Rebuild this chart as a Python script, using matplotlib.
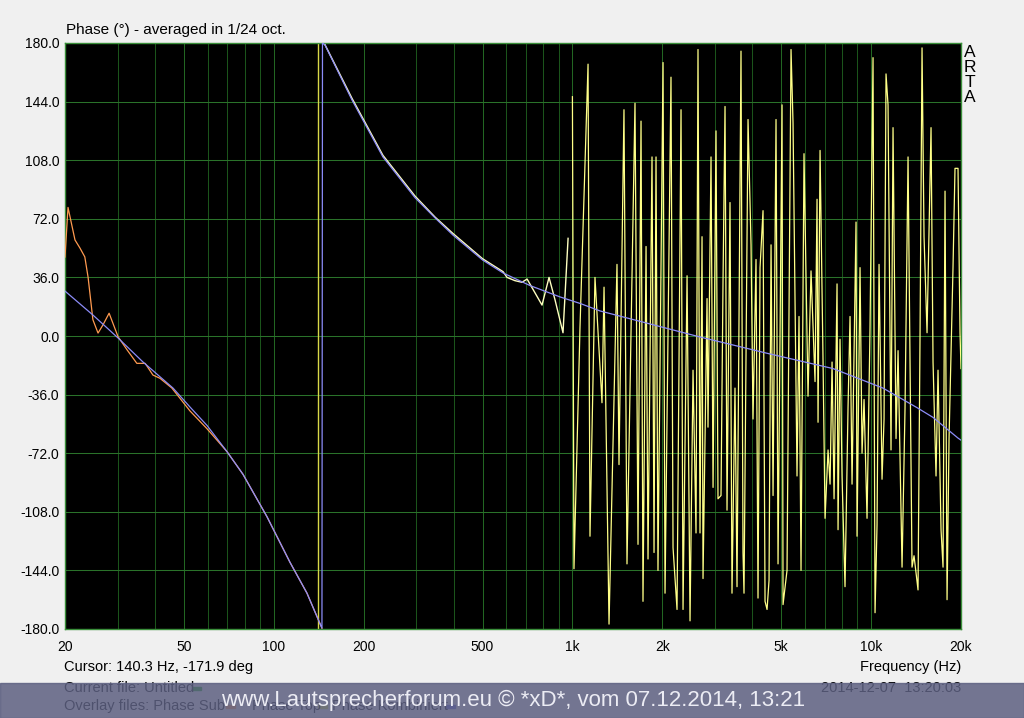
"""
ARTA phase plot: sub, top and combined phase overlays (1/24 oct. smoothing)
"""
import numpy as np
import matplotlib.pyplot as plt
from matplotlib.patches import Rectangle

# ---- data ----
# Phase Kombiniert (blue), wraps from -180 to +180 near 145 Hz
f_komb = [20, 24.8, 30.1, 36.5, 46, 52.4, 59.8, 69.7, 78.9, 94.9, 113.3, 129.2, 145.0,
          145.6, 148.4, 182.8, 232, 297, 347, 398, 500, 586, 721, 909, 1061, 1237,
          2674, 4481, 7454, 10960, 14244, 16116, 19540, 20000]
ph_komb = [27.6, 12.9, -1.2, -16, -32, -43.6, -55, -71, -85, -111, -139, -158, -179.5,
           180, 178.8, 145, 110, 85, 72.5, 62, 46.7, 38.7, 31, 24, 20, 15.4,
           -0.6, -10.6, -20, -32, -44, -50, -62.7, -64]

# Phase Sub (orange)
f_sub = [20, 20.47, 21.6, 22.45, 23.3, 23.9, 24.8, 25.8, 26.8, 28.1, 30.1, 32.3, 34.8,
         37.1, 39.4, 41.6, 45.6, 52.4, 59.8, 69.7, 78.9, 94.9, 113.3, 129.2, 145.0]
ph_sub = [48.5, 79, 59, 54, 48.6, 36, 10, 1.8, 6.8, 14, -0.4, -8.6, -16.8,
          -16.8, -24, -26, -32, -46, -57, -71, -85, -111, -139, -158, -179.5]

# Phase Top (pale yellow), smooth part up to ~1 kHz
f_top_lo = [148.4, 182.8, 232, 297, 347, 398, 500, 586, 604, 642, 678, 705, 791, 835,
            875, 930, 967]
ph_top_lo = [179, 146, 111, 86, 73, 63, 47.5, 39.5, 36, 34, 33, 35, 19, 36,
             22, 2, 60]

# Phase Top above 1 kHz (extremes of the ragged trace)
f_top_hi = [1000, 1012, 1060, 1128, 1145, 1190, 1256, 1276, 1326, 1410, 1432, 1488,
            1523, 1620, 1658, 1697, 1723, 1764, 1791, 1847, 1876, 1905, 1934, 2011,
            2042, 2138, 2172, 2240, 2310, 2346, 2420, 2476, 2534, 2593, 2633, 2674,
            2716, 2737, 2823, 2844, 2911, 2957, 3025, 3072, 3144, 3193, 3243, 3293,
            3370, 3422, 3502, 3557, 3668, 3725, 3754, 3872, 3963, 4024, 4118, 4182,
            4248, 4347, 4415, 4484, 4553, 4624, 4696, 4805, 4880, 5033, 5072, 5230,
            5394, 5478, 5649, 5737, 5826, 5962, 6149, 6293, 6491, 6592, 6643, 6747,
            6905, 7012, 7176, 7288, 7401, 7516, 7691, 7751, 7870, 7993, 8179, 8371,
            8502, 8634, 8904, 8973, 9183, 9326, 9471, 9692, 9918, 10150, 10309, 10469,
            10632, 10880, 11050, 11220, 11395, 11660, 11843, 12120, 12310, 12695,
            12991, 13296, 13710, 13925, 14360, 14583, 14810, 15040, 15393, 15874,
            16121, 16497, 16753, 17146, 17413, 17684, 17960, 18239, 18805, 19097,
            19545, 19850, 20000]
ph_top_hi = [147, -143, 5, 167, -123, 36, -41, 30, -177, 44, -79, 139,
             -140, 143, -128, 132, -163, 55, -137, 110, -133, 110, -144, 168,
             -158, 159, -130, -168, 139, -168, 37, -175, -21, -121, 176, -121,
             61, -149, 23, -56, 110, -93, 126, -100, -98, 33, 141, -107,
             82, -158, -32, -154, 175, -133, -158, 133, 56, -51, 47, -161,
             42, 77, -163, -168, -150, 56, -98, 133, -140, 142, -165, -144,
             176, 131, -86, 12, -144, 112, -37, 40, -28, 84, -53, 114,
             -16, -112, -70, -91, -16, -100, 32, -119, -2, -86, -154, -44,
             12, -91, 70, -123, 42, -72, -39, -112, 5, 171, -170, -116,
             44, -88, -51, 161, 142, -70, 128, -63, -9, -142,
             -44, 110, -142, -135, -156, 0, 177, 61, 2, 128,
             -16, -86, -21, -119, -142, 89, -162, -63, 42, 103,
             103, 2, -20]

cursor_f = 140.3
major_f = [20, 50, 100, 200, 500, 1000, 2000, 5000, 10000, 20000]
major_lab = ['20', '50', '100', '200', '500', '1k', '2k', '5k', '10k', '20k']
minor_f = [30, 40, 60, 70, 80, 90, 300, 400, 600, 700, 800, 900,
           3000, 4000, 6000, 7000, 8000, 9000]
y_ticks = np.arange(-180, 181, 36)

# ---- plotting ----
bg = '#f0f0f0'
plt.rcParams['font.family'] = ['Liberation Sans', 'DejaVu Sans']
narrow = ['Liberation Sans Narrow', 'Liberation Sans', 'DejaVu Sans']

fig = plt.figure(figsize=(10.24, 7.18), dpi=100, facecolor=bg)
ax = fig.add_axes([65/1024, 1-629/718, 896/1024, 586/718], facecolor='black')

ax.set_xscale('log')
ax.set_xlim(20, 20000)
ax.set_ylim(-180, 180)

for f in minor_f:
    ax.axvline(f, color='#1b541b', lw=0.75, zorder=1, snap=True)
for f in major_f:
    ax.axvline(f, color='#226622', lw=0.75, zorder=1, snap=True)
for v in y_ticks:
    ax.axhline(v, color='#2a722a', lw=0.75, zorder=1, snap=True)

# cursor
ax.axvline(cursor_f, color='#d8d848', lw=1.0, zorder=2)

ax.plot(f_top_hi, ph_top_hi, color='#ffff88', lw=0.9, zorder=3)
ax.plot(f_top_lo, ph_top_lo, color='#ffffc0', lw=1.0, zorder=3)
ax.plot(f_sub, ph_sub, color='#ff9a50', lw=0.9, zorder=4)
ax.plot(f_komb, ph_komb, color='#8c8cf8', lw=0.9, zorder=5)

ax.set_xticks(major_f)
ax.set_xticklabels(major_lab, fontfamily=narrow, fontsize=10)
ax.set_xticks([], minor=True)
ax.set_yticks(y_ticks)
ax.set_yticklabels(['%.1f' % v for v in y_ticks], fontsize=10)
ax.tick_params(length=0, colors='black')
ax.tick_params(axis='y', pad=4)
ax.tick_params(axis='x', pad=8)
for s in ax.spines.values():
    s.set_color('#3a8f3a')
    s.set_linewidth(1.0)

fig.text(66/1024, 1-30/718, 'Phase (\u00b0) - averaged in 1/24 oct.', fontsize=11,
         va='center', ha='left')
fig.text(970/1024, 1-75/718, 'A\nR\nT\nA', fontsize=12.5, ha='center', va='center',
         linespacing=1.0)

fig.text(64/1024, 1-667/718, 'Cursor: 140.3 Hz, -171.9 deg', fontsize=10.5,
         fontfamily=narrow, va='center')
fig.text(961/1024, 1-667/718, 'Frequency (Hz)', fontsize=10.5, fontfamily=narrow,
         va='center', ha='right')
fig.text(64/1024, 1-688/718, 'Current file: Untitled', fontsize=10.5,
         fontfamily=narrow, va='center')
fig.patches.append(Rectangle((192/1024, 1-690/718), 9/1024, 3/718,
                             transform=fig.transFigure, color='#10a010'))
fig.text(961/1024, 1-688/718, '2014-12-07  13:20:03', fontsize=10.5,
         fontfamily=narrow, va='center', ha='right')
fig.text(64/1024, 1-706/718, 'Overlay files: Phase Sub', fontsize=10.5,
         fontfamily=narrow, va='center')
fig.text(252/1024, 1-706/718, 'Phase Top', fontsize=10.5, fontfamily=narrow,
         va='center')
fig.text(332/1024, 1-706/718, 'Phase Kombiniert', fontsize=10.5, fontfamily=narrow,
         va='center')
for x0, c in [(226, '#ff9a50'), (318, '#e0e040'), (446, '#6060e0')]:
    fig.patches.append(Rectangle((x0/1024, 1-708/718), 9/1024, 3/718,
                                 transform=fig.transFigure, color=c))

# watermark band
fig.patches.append(Rectangle((0, 0), 1, 35/718, transform=fig.transFigure,
                             color='#5d6081', alpha=0.85, zorder=5))
fig.text(513/1024, 1-700/718,
         'www.Lautsprecherforum.eu \u00a9 *xD*, vom 07.12.2014, 13:21',
         fontsize=16, fontfamily=narrow, color='#ececf4', ha='center',
         va='center', zorder=6)

fig.savefig('out.png', dpi=100, facecolor=bg)
